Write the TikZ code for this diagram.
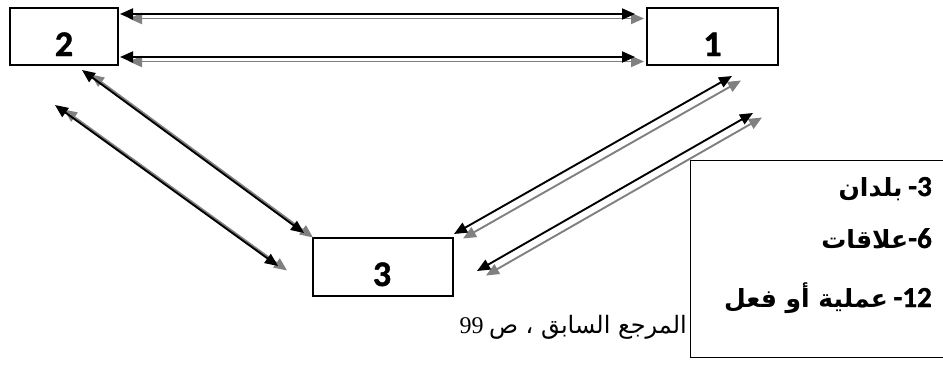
\documentclass[tikz,border=0pt]{standalone}
\usepackage{fontspec}
\setmainfont{Carlito}[BoldFont={Carlito Bold}, BoldFeatures={FakeBold=1.2}]
\newfontfamily\arabicfont[Script=Arabic]{DejaVu Sans}
\newfontfamily\capserif{Liberation Serif}
\TeXXeTstate=1
\usetikzlibrary{arrows.meta}
\newcommand\dualarrow[2]{%
  \draw[shadowarr] (#1) -- (#2);
  \draw[mainarr] (#1) -- (#2);}
\newcommand\legnum[1]{{\fontsize{29}{30}\selectfont #1}}
\begin{document}
\begin{tikzpicture}[x=1pt,y=-1pt,
  box/.style={draw, line width=1.8pt, inner sep=0pt},
  thinbox/.style={draw, line width=1.3pt, inner sep=0pt},
  digit/.style={font=\bfseries\fontsize{36}{40}\selectfont, inner sep=0pt, anchor=base},
  legendtxt/.style={font=\bfseries\fontsize{25}{30}\selectfont, inner sep=0pt, anchor=base east},
  captxt/.style={font=\fontsize{24}{26}\selectfont, inner sep=0pt, anchor=base east},
  mainarr/.style={line width=1.9pt, black, {Triangle[length=13pt,width=11pt]}-{Triangle[length=13pt,width=11pt]}},
  shadowarr/.style={mainarr, gray, transform canvas={xshift=9pt,yshift=-4.5pt}}]
\useasboundingbox (0,0) rectangle (943,367);
\fill[white] (0,0) rectangle (943,367);

% boxes
\node[box, minimum width=108pt, minimum height=57pt] (b2) at (64,36.5) {};
\node[box, minimum width=131pt, minimum height=57pt] (b1) at (712.5,36.5) {};
\node[thinbox, minimum width=140pt, minimum height=58pt] (b3) at (383,267) {};
\node[digit] (t2) at (64,56) {2};
\node[digit] (t1) at (712.5,56) {1};
\node[digit] (t3) at (382,286) {3};

% legend
\node[thinbox, minimum width=270pt, minimum height=197pt, anchor=north west] (legend) at (690,160) {};
\node[legendtxt] (l1) at (932,196) {{\arabicfont\beginR بلدان\endR}\ \legnum{-3}};
\node[legendtxt] (l2) at (932,248) {{\arabicfont\beginR علاقات\endR}\legnum{-6}};
\node[legendtxt] (l3) at (932,307) {{\arabicfont\beginR عملية أو فعل\endR}\ \legnum{-12}};
\node[captxt] (cap) at (687,333) {{\capserif 99} {\arabicfont\beginR المرجع السابق ، ص\endR}};

% arrow ends
\coordinate (h1a) at (120,14);  \coordinate (h1b) at (635,14);
\coordinate (h2a) at (120,57);  \coordinate (h2b) at (635,57);
\coordinate (aa) at (82,70);    \coordinate (ab) at (304,233);
\coordinate (ba) at (55,105);   \coordinate (bb) at (278,266);
\coordinate (ca) at (732,76);   \coordinate (cb) at (454,234);
\coordinate (da) at (753,113);  \coordinate (db) at (477,271);

\dualarrow{h1a}{h1b}
\dualarrow{h2a}{h2b}
\dualarrow{aa}{ab}
\dualarrow{ba}{bb}
\dualarrow{ca}{cb}
\dualarrow{da}{db}
\end{tikzpicture}
\end{document}
